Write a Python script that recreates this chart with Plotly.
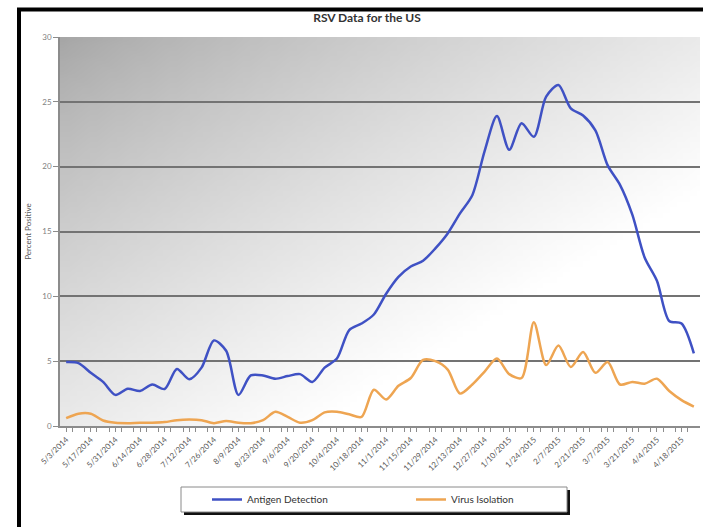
import zlib, struct, base64
import plotly.graph_objects as go

# ---------------- data ----------------
week_labels = [
    "5/3/2014", "5/10/2014", "5/17/2014", "5/24/2014", "5/31/2014", "6/7/2014",
    "6/14/2014", "6/21/2014", "6/28/2014", "7/5/2014", "7/12/2014", "7/19/2014",
    "7/26/2014", "8/2/2014", "8/9/2014", "8/16/2014", "8/23/2014", "8/30/2014",
    "9/6/2014", "9/13/2014", "9/20/2014", "9/27/2014", "10/4/2014", "10/11/2014",
    "10/18/2014", "10/25/2014", "11/1/2014", "11/8/2014", "11/15/2014", "11/22/2014",
    "11/29/2014", "12/6/2014", "12/13/2014", "12/20/2014", "12/27/2014", "1/3/2015",
    "1/10/2015", "1/17/2015", "1/24/2015", "1/31/2015", "2/7/2015", "2/14/2015",
    "2/21/2015", "2/28/2015", "3/7/2015", "3/14/2015", "3/21/2015", "3/28/2015",
    "4/4/2015", "4/11/2015", "4/18/2015", "4/25/2015",
]

antigen_detection = [
    4.93, 4.85, 4.1, 3.4, 2.4, 2.87, 2.7, 3.2, 2.85, 4.4, 3.6, 4.5,
    6.6, 5.8, 2.4, 3.9, 3.9, 3.65, 3.85, 4.0, 3.4, 4.5, 5.2, 7.4,
    7.9, 8.6, 10.2, 11.5, 12.3, 12.75, 13.7, 14.85, 16.4, 17.8, 21.2, 23.9,
    21.3, 23.35, 22.3, 25.4, 26.3, 24.5, 23.95, 22.8, 20.1, 18.6, 16.3, 13.0,
    11.2, 8.1, 7.9, 5.6,
]

virus_isolation = [
    0.6, 0.95, 0.95, 0.42, 0.25, 0.22, 0.25, 0.25, 0.3, 0.45, 0.5, 0.45,
    0.22, 0.38, 0.25, 0.22, 0.45, 1.1, 0.7, 0.25, 0.45, 1.05, 1.1, 0.9,
    0.7, 2.8, 2.05, 3.1, 3.7, 5.1, 5.0, 4.35, 2.5, 3.2, 4.2, 5.2,
    4.0, 3.7, 8.0, 4.7, 6.2, 4.55, 5.7, 4.1, 4.93, 3.2, 3.4, 3.26,
    3.65, 2.7, 2.0, 1.5,
]

series_names = ["Antigen Detection", "Virus Isolation"]
y_ticks = [0, 5, 10, 15, 20, 25, 30]

# ---------------- style helpers ----------------
W, H = 703, 527
ML, MR, MT, MB = 60, 3, 37, 101
PW, PH = W - ML - MR, H - MT - MB


def px_x(px):
    return (px - ML) / PW


def px_y(py):
    return (H - MB - py) / PH


def gradient_png(w, h):
    raw = bytearray()
    for yy in range(h):
        raw.append(0)
        v = yy / (h - 1)
        for xx in range(w):
            u = xx / (w - 1)
            t = min(1.0, (u + v) / 1.4) ** 0.8
            c = int(round(166 + 89 * t))
            raw += bytes((c, c, c))

    def chunk(tag, data):
        c = struct.pack(">I", len(data)) + tag + data
        return c + struct.pack(">I", zlib.crc32(tag + data) & 0xFFFFFFFF)

    png = (b"\x89PNG\r\n\x1a\n"
           + chunk(b"IHDR", struct.pack(">IIBBBBB", w, h, 8, 2, 0, 0, 0))
           + chunk(b"IDAT", zlib.compress(bytes(raw)))
           + chunk(b"IEND", b""))
    return "data:image/png;base64," + base64.b64encode(png).decode()


idx = list(range(len(week_labels)))
label_idx = idx[::2]

fig = go.Figure()
fig.add_trace(go.Scatter(
    x=idx, y=antigen_detection, name=series_names[0], mode="lines",
    line=dict(color="#3f51c4", width=2.5, shape="spline", smoothing=0.8),
    legend="legend",
))
fig.add_trace(go.Scatter(
    x=idx, y=virus_isolation, name=series_names[1], mode="lines",
    line=dict(color="#eea552", width=2.5, shape="spline", smoothing=0.8),
    legend="legend2",
))

font_fam = "Lato, 'Open Sans', sans-serif"

shapes = [
    # legend shadow and box
    dict(type="rect", xref="paper", yref="paper",
         x0=px_x(184), x1=px_x(570), y0=px_y(515), y1=px_y(490),
         fillcolor="#111", line=dict(width=0), layer="above"),
    dict(type="rect", xref="paper", yref="paper",
         x0=px_x(181), x1=px_x(567), y0=px_y(512), y1=px_y(487),
         fillcolor="white", line=dict(color="#8a8a8a", width=1), layer="above"),
    # black frame (left and top)
    dict(type="line", xref="paper", yref="paper",
         x0=px_x(19), x1=px_x(19), y0=px_y(8), y1=px_y(532),
         line=dict(color="black", width=4), layer="above"),
    dict(type="line", xref="paper", yref="paper",
         x0=px_x(17), x1=px_x(710), y0=px_y(9.5), y1=px_y(9.5),
         line=dict(color="black", width=4), layer="above"),
]

fig.update_layout(
    width=W, height=H,
    margin=dict(l=ML, r=MR, t=MT, b=MB, pad=0),
    paper_bgcolor="white",
    plot_bgcolor="white",
    font=dict(family=font_fam, size=8, color="#595959"),
    title=dict(text="<b>RSV Data for the US</b>", x=367 / W,
               xanchor="center", y=1 - 18 / H, yanchor="middle",
               font=dict(size=12, color="#333333", family=font_fam)),
    images=[dict(source=gradient_png(96, 72), xref="paper", yref="paper",
                 x=0, y=1, sizex=1, sizey=1, sizing="stretch",
                 xanchor="left", yanchor="top", layer="below")],
    shapes=shapes,
    legend=dict(orientation="h", x=px_x(207), xanchor="left",
                y=px_y(499.5), yanchor="middle",
                bgcolor="rgba(0,0,0,0)", borderwidth=0,
                font=dict(size=10, color="#333333", family=font_fam)),
    legend2=dict(orientation="h", x=px_x(411), xanchor="left",
                 y=px_y(499.5), yanchor="middle",
                 bgcolor="rgba(0,0,0,0)", borderwidth=0,
                 font=dict(size=10, color="#333333", family=font_fam)),
    showlegend=True,
)

fig.update_xaxes(
    range=[-0.5, len(idx) - 0.5],
    tickmode="array", tickvals=label_idx,
    ticktext=[week_labels[i] for i in label_idx],
    tickangle=-45, tickfont=dict(size=8, color="#595959"),
    showgrid=False, zeroline=False,
    showline=True, linecolor="#8c8c8c", linewidth=1.5,
    ticks="outside", ticklen=4, tickcolor="#8c8c8c",
    minor=dict(tickvals=[i + 0.5 for i in idx[:-1]], ticks="outside",
               ticklen=4, tickcolor="#8c8c8c", showgrid=False),
)
fig.update_yaxes(
    range=[0, 30], tickmode="array", tickvals=y_ticks,
    tickfont=dict(size=8, color="#7f7f7f"),
    showgrid=True, gridcolor="#737373", gridwidth=1.5,
    zeroline=False, showline=True, linecolor="#8c8c8c", linewidth=1.5,
    ticks="outside", ticklen=5, tickcolor="#8c8c8c",
    title=dict(text="Percent Positive", font=dict(size=8, color="#595959"),
               standoff=10),
)

fig.write_html("out.html")
